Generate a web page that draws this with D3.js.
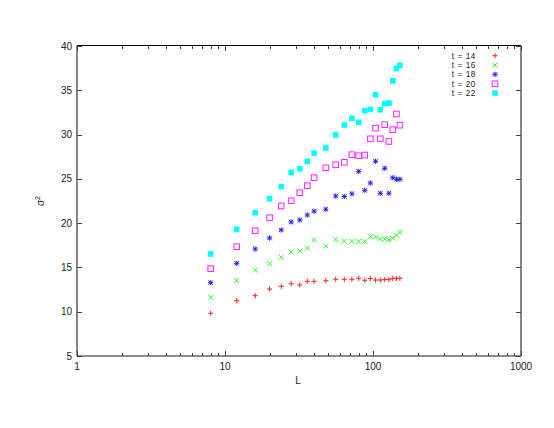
<!DOCTYPE html>
<html><head><meta charset="utf-8">
<script src="https://cdn.jsdelivr.net/npm/d3@7"></script>
<style>body{margin:0;background:#fff}svg{display:block}text{font-family:"Liberation Sans",Arial,sans-serif;fill:#222}</style>
</head><body>
<script>
const L = [8,12,16,20,24,28,32,36,40,48,56,64,72,80,88,96,104,112,120,128,136,144,152];
const t14 = [9.82,11.24,11.81,12.56,12.87,13.16,13.02,13.43,13.43,13.5,13.66,13.66,13.66,13.77,13.55,13.75,13.58,13.58,13.63,13.63,13.77,13.77,13.77];
const t16 = [11.63,13.5,14.68,15.42,16.14,16.74,16.86,17.19,18.13,17.42,18.15,17.96,17.93,17.93,17.93,18.47,18.44,18.21,18.21,18.10,18.29,18.63,18.97];
const t18 = [13.28,15.47,17.08,18.32,19.23,20.13,20.36,20.92,21.34,21.56,23.06,23.01,23.32,25.85,23.71,24.53,26.98,23.37,26.19,23.37,25.13,24.95,24.95];
const t20 = [14.86,17.34,19.15,20.61,21.94,22.53,23.44,24.23,25.13,26.25,26.59,26.87,27.73,27.61,27.69,29.52,30.72,29.52,31.12,29.22,30.55,32.32,31.06];
const t22 = [16.52,19.30,21.18,22.76,24.11,25.72,26.14,26.96,27.90,28.48,29.95,31.08,31.84,31.39,32.70,32.85,34.50,32.80,33.49,33.56,36.07,37.46,37.82];
const seriesNames = ["t = 14","t = 16","t = 18","t = 20","t = 22"];
const seriesValues = [t14,t16,t18,t20,t22];
const seriesColors = ["#ff2020","#20ff20","#2020ff","#ff20ff","#00ffff"];
const seriesShapes = ["plus","cross","star","box","fbox"];
const xTicks = [1,10,100,1000];
const yTicks = [5,10,15,20,25,30,35,40];

const W=554,H=428;
const svg=d3.select("body").append("svg").attr("width",W).attr("height",H);
const x=d3.scaleLog().domain([1,1000]).range([77,521]);
const y=d3.scaleLinear().domain([5,40]).range([356,46]);

// border
svg.append("line").attr("x1",77).attr("x2",521).attr("y1",45.5).attr("y2",45.5).attr("stroke","#000");
svg.append("line").attr("x1",77).attr("x2",77).attr("y1",45.5).attr("y2",356).attr("stroke","#666").attr("stroke-width",1.6);
svg.append("line").attr("x1",521).attr("x2",521).attr("y1",45.5).attr("y2",356).attr("stroke","#666").attr("stroke-width",1.6);
svg.append("line").attr("x1",77).attr("x2",521).attr("y1",356).attr("y2",356).attr("stroke","#666").attr("stroke-width",1.6);

// y ticks
const tk=svg.append("g").attr("stroke","#444");
yTicks.forEach(v=>{
  const py=Math.round(y(v))+0.5;
  tk.append("line").attr("x1",77).attr("x2",82).attr("y1",py).attr("y2",py);
  tk.append("line").attr("x1",521).attr("x2",516).attr("y1",py).attr("y2",py);
});
// x ticks with minors
const minors=[];
[1,10,100].forEach(d=>{for(let k=2;k<=9;k++)minors.push(d*k);});
xTicks.forEach(v=>{
  const px=Math.round(x(v))+0.5;
  tk.append("line").attr("x1",px).attr("x2",px).attr("y1",356).attr("y2",351);
  tk.append("line").attr("x1",px).attr("x2",px).attr("y1",46).attr("y2",51);
});
minors.forEach(v=>{
  const px=Math.round(x(v))+0.5;
  tk.append("line").attr("x1",px).attr("x2",px).attr("y1",356).attr("y2",353);
  tk.append("line").attr("x1",px).attr("x2",px).attr("y1",46).attr("y2",49);
});

// tick labels
yTicks.forEach(v=>{
  svg.append("text").attr("x",72).attr("y",y(v)).attr("dy","0.35em").attr("text-anchor","end").attr("font-size",10).text(v);
});
xTicks.forEach(v=>{
  svg.append("text").attr("x",x(v)).attr("y",366).attr("dy","0.35em").attr("text-anchor","middle").attr("font-size",10).text(v);
});
svg.append("text").attr("x",298).attr("y",380).attr("dy","0.35em").attr("text-anchor","middle").attr("font-size",10).text("L");
const yl=svg.append("text").attr("transform","translate(44,201) rotate(-90)").attr("text-anchor","middle").attr("font-size",10);
yl.append("tspan").text("σ");
yl.append("tspan").attr("dy",-4).attr("font-size",7).text("2");

function marker(g,shape,color,cx,cy){
  const s=2.6;
  if(shape==="plus"||shape==="star"){
    g.append("path").attr("d",`M${cx-s},${cy}H${cx+s}M${cx},${cy-s}V${cy+s}`).attr("stroke",color).attr("fill","none");
  }
  if(shape==="cross"||shape==="star"){
    const c=shape==="star"?2.2:2.4;
    g.append("path").attr("d",`M${cx-c},${cy-c}L${cx+c},${cy+c}M${cx-c},${cy+c}L${cx+c},${cy-c}`).attr("stroke",color).attr("fill","none");
  }
  if(shape==="box"){
    g.append("rect").attr("x",cx-2.8).attr("y",cy-2.8).attr("width",5.6).attr("height",5.6).attr("stroke",color).attr("fill","none");
  }
  if(shape==="fbox"){
    g.append("rect").attr("x",cx-2.8).attr("y",cy-2.8).attr("width",5.6).attr("height",5.6).attr("fill",color);
  }
}

seriesValues.forEach((vals,i)=>{
  const g=svg.append("g").attr("stroke-width",1);
  L.forEach((l,j)=>marker(g,seriesShapes[i],seriesColors[i],x(l),y(vals[j])));
});

// legend
seriesNames.forEach((n,i)=>{
  const ly=55.7+i*9.35;
  svg.append("text").attr("x",476).attr("y",ly).attr("dy","0.35em").attr("text-anchor","end").attr("font-size",8.2).attr("letter-spacing",0.6).text(n);
  marker(svg.append("g"),seriesShapes[i],seriesColors[i],495,ly);
});
</script>
</body></html>
